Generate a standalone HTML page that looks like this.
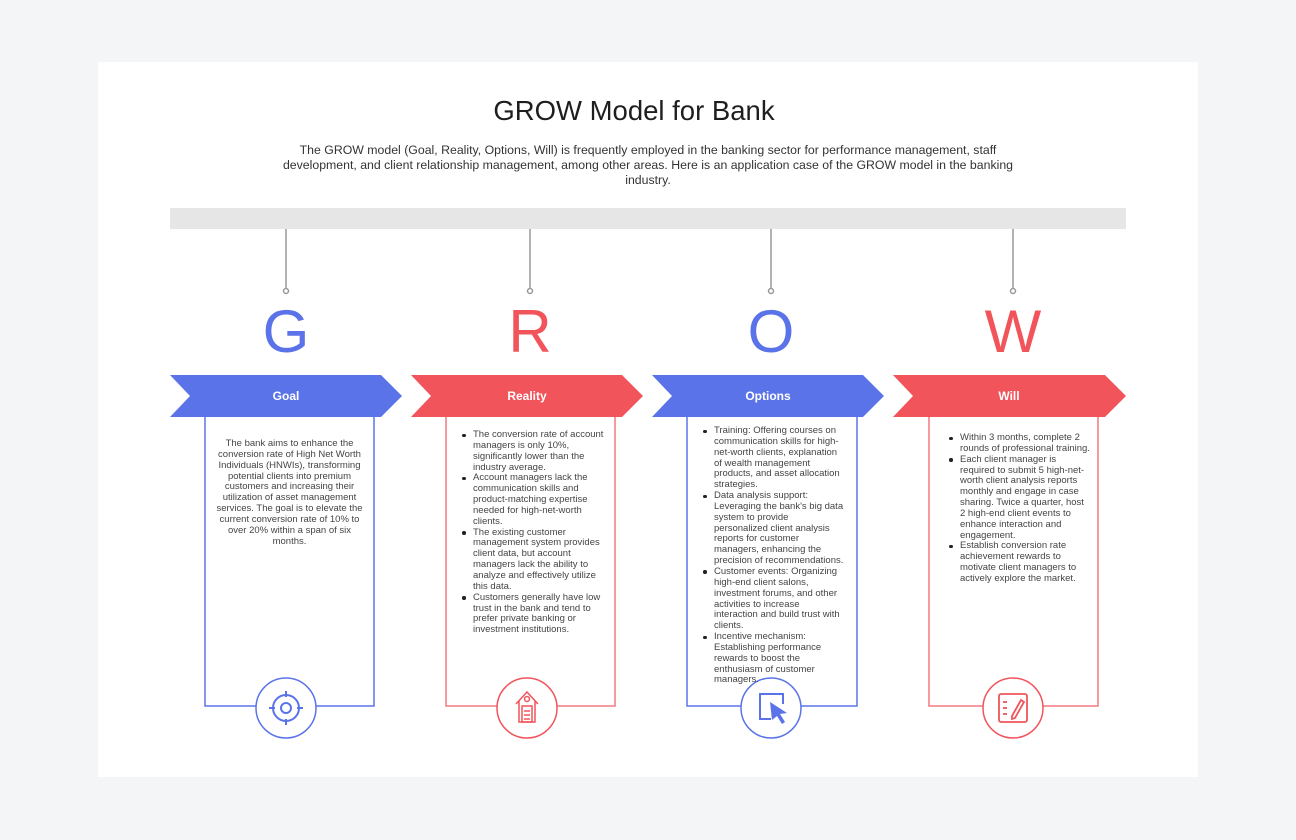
<!DOCTYPE html>
<html><head><meta charset="utf-8"><style>
*{margin:0;padding:0;box-sizing:border-box}
body{width:1296px;height:840px;background:#f4f5f7;position:relative;overflow:hidden;font-family:"Liberation Sans",sans-serif;color:#333}
.card{position:absolute;left:98px;top:62px;width:1100px;height:715px;background:#fff}
.abs{position:absolute}
.title{left:0;width:1268px;top:95px;text-align:center;font-size:27.5px;color:#1e1e1e}
.desc{left:200px;width:896px;top:143px;text-align:center;font-size:12.3px;line-height:15px;color:#333;white-space:nowrap}
.L{position:absolute;font-size:60px;width:120px;text-align:center;top:297px}
.ban{position:absolute;top:389px;width:232px;text-align:center;color:#fff;font-weight:bold;font-size:12px}
.t{position:absolute;font-size:9.5px;line-height:10.85px;color:#444;white-space:nowrap}
.t ul{list-style:none}
.t li{position:relative}
.t li:before{content:"";position:absolute;left:-11px;top:3.5px;width:3.5px;height:3.5px;border-radius:50%;background:#222}
</style></head><body>
<div class="card"></div>
<div class="abs title">GROW Model for Bank</div>
<div class="abs desc">The GROW model (Goal, Reality, Options, Will) is frequently employed in the banking sector for performance management, staff<br>development, and client relationship management, among other areas. Here is an application case of the GROW model in the banking<br>industry.</div>
<svg class="abs" style="left:0;top:0" width="1296" height="840">
<rect x="170" y="208" width="956" height="21" fill="#e6e6e6"/>
<g stroke="#999" stroke-width="1.5" fill="#fff">
<line x1="286" y1="229" x2="286" y2="289"/><circle cx="286" cy="291" r="2.5"/>
<line x1="530" y1="229" x2="530" y2="289"/><circle cx="530" cy="291" r="2.5"/>
<line x1="771" y1="229" x2="771" y2="289"/><circle cx="771" cy="291" r="2.5"/>
<line x1="1013" y1="229" x2="1013" y2="289"/><circle cx="1013" cy="291" r="2.5"/>
</g>
<polygon points="170,375 381,375 402,396 381,417 170,417 190,396" fill="#5b73e8"/>
<polygon points="411,375 622,375 643,396 622,417 411,417 431,396" fill="#f2545b"/>
<polygon points="652,375 863,375 884,396 863,417 652,417 672,396" fill="#5b73e8"/>
<polygon points="893,375 1105,375 1126,396 1105,417 893,417 913,396" fill="#f2545b"/>
<g fill="none" stroke-width="1.5">
<path d="M205,417 V706 H374 V417" stroke="#5b73e8"/>
<path d="M446,417 V706 H615 V417" stroke="#f27a80"/>
<path d="M687,417 V706 H857 V417" stroke="#5b73e8"/>
<path d="M929,417 V706 H1098 V417" stroke="#f27a80"/>
</g>
<g stroke-width="1.5" fill="#fff">
<circle cx="286" cy="708" r="30" stroke="#5b73e8"/>
<circle cx="527" cy="708" r="30" stroke="#f2545b"/>
<circle cx="771" cy="708" r="30" stroke="#5b73e8"/>
<circle cx="1013" cy="708" r="30" stroke="#f2545b"/>
</g>
<g stroke="#5b73e8" stroke-width="2" fill="none">
<circle cx="286" cy="708" r="13"/><circle cx="286" cy="708" r="5"/>
<line x1="286" y1="691" x2="286" y2="697"/><line x1="286" y1="719" x2="286" y2="725"/>
<line x1="269" y1="708" x2="275" y2="708"/><line x1="297" y1="708" x2="303" y2="708"/>
</g>
<g stroke="#f2545b" stroke-width="1.5" fill="none">
<path d="M516,704 L527,692 L538,704 M519,701 V722 H535 V701"/>
<circle cx="527" cy="699" r="2.5"/>
<rect x="522" y="706" width="10" height="16"/>
<line x1="524" y1="711" x2="530" y2="711"/><line x1="524" y1="715" x2="530" y2="715"/><line x1="524" y1="719" x2="530" y2="719"/>
</g>
<g stroke="#5b73e8" stroke-width="2" fill="none">
<path d="M771,719 H760 V694 H783 V704"/>
</g>
<polygon points="770,702 787,713 780,714 785,722 782,724 777,716 772,720" fill="#5b73e8"/>
<g stroke="#f2545b" stroke-width="1.8" fill="none">
<rect x="999" y="694" width="28" height="28" rx="2"/>
<line x1="1003" y1="702" x2="1007" y2="702"/><line x1="1003" y1="708" x2="1007" y2="708"/><line x1="1003" y1="714" x2="1007" y2="714"/>
<path d="M1012,716 L1021,700 L1024,702 L1015,718 L1012,719 Z"/>
</g>
</svg>
<div class="L" style="left:226px;color:#5b73e8">G</div>
<div class="L" style="left:470px;color:#f2545b">R</div>
<div class="L" style="left:711px;color:#5b73e8">O</div>
<div class="L" style="left:953px;color:#f2545b">W</div>
<div class="ban" style="left:170px">Goal</div>
<div class="ban" style="left:411px">Reality</div>
<div class="ban" style="left:652px">Options</div>
<div class="ban" style="left:893px">Will</div>
<div class="t" style="left:205px;width:169px;top:439px;text-align:center">The bank aims to enhance the<br>conversion rate of High Net Worth<br>Individuals (HNWIs), transforming<br>potential clients into premium<br>customers and increasing their<br>utilization of asset management<br>services. The goal is to elevate the<br>current conversion rate of 10% to<br>over 20% within a span of six<br>months.</div>
<div class="t" style="left:473px;top:430px"><ul>
<li>The conversion rate of account<br>managers is only 10%,<br>significantly lower than the<br>industry average.</li>
<li>Account managers lack the<br>communication skills and<br>product-matching expertise<br>needed for high-net-worth<br>clients.</li>
<li>The existing customer<br>management system provides<br>client data, but account<br>managers lack the ability to<br>analyze and effectively utilize<br>this data.</li>
<li>Customers generally have low<br>trust in the bank and tend to<br>prefer private banking or<br>investment institutions.</li></ul></div>
<div class="t" style="left:714px;top:426px"><ul>
<li>Training: Offering courses on<br>communication skills for high-<br>net-worth clients, explanation<br>of wealth management<br>products, and asset allocation<br>strategies.</li>
<li>Data analysis support:<br>Leveraging the bank's big data<br>system to provide<br>personalized client analysis<br>reports for customer<br>managers, enhancing the<br>precision of recommendations.</li>
<li>Customer events: Organizing<br>high-end client salons,<br>investment forums, and other<br>activities to increase<br>interaction and build trust with<br>clients.</li>
<li>Incentive mechanism:<br>Establishing performance<br>rewards to boost the<br>enthusiasm of customer<br>managers.</li></ul></div>
<div class="t" style="left:960px;top:433px"><ul>
<li>Within 3 months, complete 2<br>rounds of professional training.</li>
<li>Each client manager is<br>required to submit 5 high-net-<br>worth client analysis reports<br>monthly and engage in case<br>sharing. Twice a quarter, host<br>2 high-end client events to<br>enhance interaction and<br>engagement.</li>
<li>Establish conversion rate<br>achievement rewards to<br>motivate client managers to<br>actively explore the market.</li></ul></div>
</body></html>
